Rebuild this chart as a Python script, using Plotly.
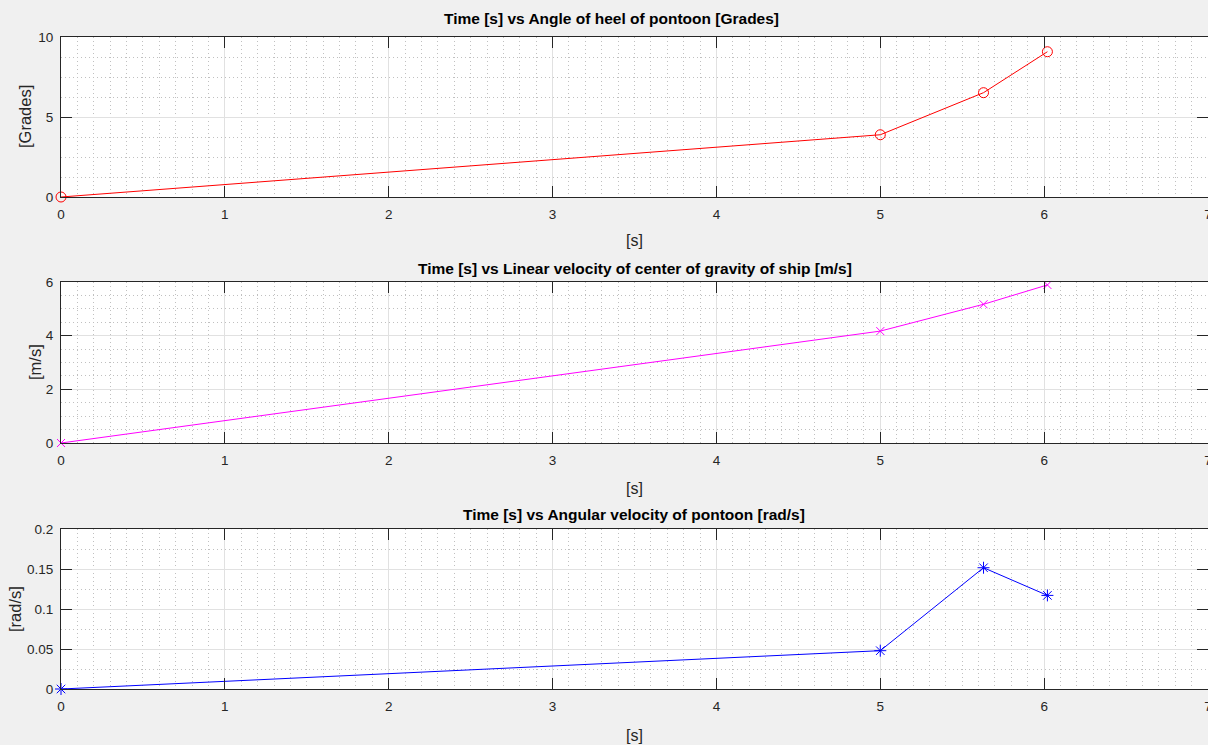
import plotly.graph_objects as go
from plotly.subplots import make_subplots

# ---- data ----
time = [0, 5, 5.63, 6.02]
heel = [0, 3.89, 6.52, 9.08]
lin_vel = [0, 4.17, 5.17, 5.89]
ang_vel = [0, 0.0479, 0.1516, 0.117]

titles = ["Time [s] vs Angle of heel of pontoon [Grades]",
          "Time [s] vs Linear velocity of center of gravity of ship [m/s]",
          "Time [s] vs Angular velocity of pontoon [rad/s]"]
ylabels = ["[Grades]", "[m/s]", "[rad/s]"]
xlabel = "[s]"

W, H = 1208, 745
ML, MR, MT, MB = 61, 0, 37, 56
PH = H - MT - MB
PW = W - ML - MR

def yf(p):
    return (H - MB - p) / PH

def xf(p):
    return (p - ML) / PW

fig = make_subplots(rows=3, cols=1)

AX = "#262626"
FONT = "Liberation Sans, Arial, sans-serif"

fig.add_trace(go.Scatter(x=time, y=heel, mode="lines+markers", cliponaxis=False,
                         line=dict(color="#ff0000", width=1),
                         marker=dict(symbol="circle-open", size=10, color="#ff0000", line=dict(width=1))),
              row=1, col=1)
fig.add_trace(go.Scatter(x=time, y=lin_vel, mode="lines+markers", cliponaxis=False,
                         line=dict(color="#ff00ff", width=1),
                         marker=dict(symbol="x-thin-open", size=8, color="#ff00ff", line=dict(width=1, color="#ff00ff"))),
              row=2, col=1)
fig.add_trace(go.Scatter(x=time, y=ang_vel, mode="lines+markers", cliponaxis=False,
                         line=dict(color="#0000ff", width=1),
                         marker=dict(symbol="asterisk-open", size=10, color="#0000ff", line=dict(width=1, color="#0000ff"))),
              row=3, col=1)

ydomains = [[yf(197), yf(37)], [yf(443), yf(282)], [yf(689), yf(529)]]
yranges = [[0, 10], [0, 6], [0, 0.2]]
ydticks = [5, 2, 0.05]
yminor = [1.25, 0.5, 0.025]

common = dict(showline=True, linecolor=AX, linewidth=1, mirror="allticks",
              ticks="inside", ticklen=11, tickcolor=AX, tickwidth=1,
              tickfont=dict(family=FONT, size=13.5, color=AX),
              ticklabeloverflow="allow", automargin=False,
              showgrid=True, gridcolor="#e1e1e1", gridwidth=1, zeroline=False)

for i in range(3):
    xa = "xaxis" if i == 0 else f"xaxis{i+1}"
    ya = "yaxis" if i == 0 else f"yaxis{i+1}"
    fig.layout[xa].update(domain=[0, 1], range=[0, 7], dtick=1, tick0=0,
                          ticklabelstandoff=5,
                          minor=dict(dtick=0.1, tick0=0, showgrid=True, griddash="1px,3px",
                                     gridcolor="#c0c0c0", gridwidth=1, ticks=""),
                          **common)
    fig.layout[ya].update(domain=ydomains[i], range=yranges[i], dtick=ydticks[i], tick0=0,
                          ticklabelstandoff=4,
                          minor=dict(dtick=yminor[i], tick0=0, showgrid=True, griddash="1px,3px",
                                     gridcolor="#c0c0c0", gridwidth=1, ticks=""),
                          **common)

ann = []
title_pos = [(611, 19), (635, 268), (634, 514)]
for t, (px, py) in zip(titles, title_pos):
    ann.append(dict(text=f"<b>{t}</b>", xref="paper", yref="paper", x=xf(px), y=yf(py),
                    xanchor="center", yanchor="middle", showarrow=False,
                    font=dict(family=FONT, size=15.5, color="#000000")))
for py in [241, 488, 735]:
    ann.append(dict(text=xlabel, xref="paper", yref="paper", x=xf(634), y=yf(py),
                    xanchor="center", yanchor="middle", showarrow=False,
                    font=dict(family=FONT, size=16, color=AX)))
ylab_pos = [(25, 117), (35, 362), (15, 609)]
for t, (px, py) in zip(ylabels, ylab_pos):
    ann.append(dict(text=t, xref="paper", yref="paper", x=xf(px), y=yf(py),
                    xanchor="center", yanchor="middle", showarrow=False, textangle=-90,
                    font=dict(family=FONT, size=16.5, color=AX)))

fig.update_layout(width=W, height=H, margin=dict(l=ML, r=MR, t=MT, b=MB, autoexpand=False),
                  paper_bgcolor="#f0f0f0", plot_bgcolor="#ffffff",
                  showlegend=False, annotations=ann,
                  font=dict(family=FONT))

fig.write_html("out.html", config={"displayModeBar": False},
               post_script="document.body.style.margin='0';document.body.style.overflow='hidden';document.body.style.background='#f0f0f0';")
